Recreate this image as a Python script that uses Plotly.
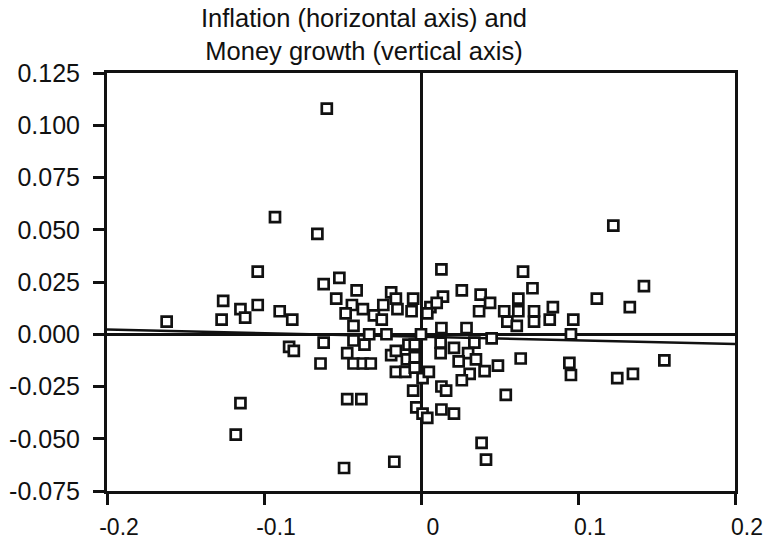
import plotly.graph_objects as go
import numpy as np

inflation = [
    -0.060, -0.093, -0.066, -0.104, -0.062, -0.052, -0.041, -0.019, -0.016, -0.005,
    -0.126, -0.115, -0.104, -0.054, -0.127, -0.112, -0.162, -0.090, -0.082, -0.044,
    -0.037, -0.048, -0.024, -0.015, -0.006, 0.006, -0.030, -0.025, -0.043, -0.033,
    -0.022, 0.000, -0.084, -0.081, -0.062, -0.043, -0.036, -0.064, -0.047, -0.043,
    -0.037, -0.032, -0.019, -0.016, -0.008, -0.004, -0.009, -0.004, -0.016, -0.010,
    -0.004, 0.001, 0.005, -0.005, -0.047, -0.038, -0.115, -0.118, -0.003, 0.001,
    0.004, -0.049, -0.017,
    0.1225, 0.013, 0.065, 0.142, 0.071, 0.026, 0.112, 0.133, 0.038, 0.044,
    0.062, 0.037, 0.053, 0.062, 0.072, 0.084, 0.014, 0.010, 0.004, 0.055,
    0.061, 0.072, 0.082, 0.097, 0.0955, 0.013, 0.029, 0.045, 0.034, 0.0125,
    0.021, 0.0125, 0.030, 0.024, 0.035, 0.049, 0.0635, 0.0945, 0.0955, 0.155,
    0.125, 0.135, 0.0405, 0.031, 0.026, 0.013, 0.016, 0.054, 0.013, 0.021,
    0.0386, 0.0414,
]
money_growth = [
    0.108, 0.056, 0.048, 0.030, 0.024, 0.027, 0.021, 0.020, 0.017, 0.017,
    0.016, 0.012, 0.014, 0.017, 0.007, 0.008, 0.006, 0.011, 0.007, 0.014,
    0.012, 0.010, 0.014, 0.012, 0.011, 0.013, 0.009, 0.007, 0.004, 0.000,
    0.000, 0.000, -0.006, -0.008, -0.004, -0.003, -0.005, -0.014, -0.009, -0.014,
    -0.014, -0.014, -0.010, -0.008, -0.005, -0.005, -0.012, -0.011, -0.018, -0.018,
    -0.016, -0.021, -0.018, -0.027, -0.031, -0.031, -0.033, -0.048, -0.035, -0.038,
    -0.040, -0.064, -0.061,
    0.052, 0.031, 0.030, 0.023, 0.022, 0.021, 0.017, 0.013, 0.019, 0.015,
    0.017, 0.011, 0.011, 0.011, 0.011, 0.013, 0.018, 0.015, 0.010, 0.006,
    0.004, 0.006, 0.007, 0.007, 0.000, 0.003, 0.003, -0.002, -0.004, -0.004,
    -0.0065, -0.009, -0.009, -0.013, -0.012, -0.015, -0.0116, -0.0137, -0.0195, -0.0125,
    -0.021, -0.019, -0.0176, -0.019, -0.022, -0.025, -0.027, -0.029, -0.036, -0.038,
    -0.052, -0.060,
]

# fitted regression line
fit_intercept = -0.0012
fit_slope = -0.0173
fit_x_range = [-0.2, 0.2]

x_tickvals = [-0.2, -0.1, 0.0, 0.1, 0.2]
x_ticktext = ["-0.2", "-0.1", "0", "0.1", "0.2"]
y_tickvals = [0.125, 0.100, 0.075, 0.050, 0.025, 0.000, -0.025, -0.050, -0.075]
y_ticktext = ["0.125", "0.100", "0.075", "0.050", "0.025", "0.000", "-0.025", "-0.050", "-0.075"]

title_lines = ["Inflation (horizontal axis) and", "Money growth (vertical axis)"]

fx = np.array(fit_x_range)
fy = fit_intercept + fit_slope * fx

FONT = "Liberation Sans, Arial, sans-serif"
INK = "#111111"

fig = go.Figure()
fig.add_trace(go.Scatter(x=fx, y=fy, mode="lines",
                         line=dict(color=INK, width=2.5), showlegend=False,
                         hoverinfo="skip"))
fig.add_trace(go.Scatter(x=inflation, y=money_growth, mode="markers",
                         marker=dict(symbol="square", size=10, color="white",
                                     line=dict(color=INK, width=2.7)),
                         showlegend=False))

axis_common = dict(showgrid=False, showline=True, linecolor=INK, linewidth=3,
                   mirror=True, ticks="outside", tickcolor=INK, tickwidth=3,
                   ticklen=11, zeroline=True, zerolinecolor=INK, zerolinewidth=2.5,
                   automargin=False)

fig.update_xaxes(range=[-0.2, 0.2], tickvals=x_tickvals, ticktext=x_ticktext,
                 ticklabeloverflow="allow", ticklabelstandoff=2, ticklabelshift=12,
                 tickfont=dict(family=FONT, size=23, color=INK), **axis_common)
fig.update_yaxes(range=[-0.075, 0.125], tickvals=y_tickvals, ticktext=y_ticktext,
                 ticklabelstandoff=8,
                 tickfont=dict(family=FONT, size=25, color=INK), **axis_common)

fig.add_annotation(text="<br>".join(title_lines), xref="paper", yref="paper",
                   x=(364 - 107) / 628, y=1 + (73 - 34) / 418,
                   xanchor="center", yanchor="middle", align="center",
                   showarrow=False, font=dict(family=FONT, size=25.5, color=INK))

fig.update_layout(width=773, height=541, plot_bgcolor="white", paper_bgcolor="white",
                  margin=dict(l=107, r=38, t=73, b=50))

fig.write_html("out.html")
